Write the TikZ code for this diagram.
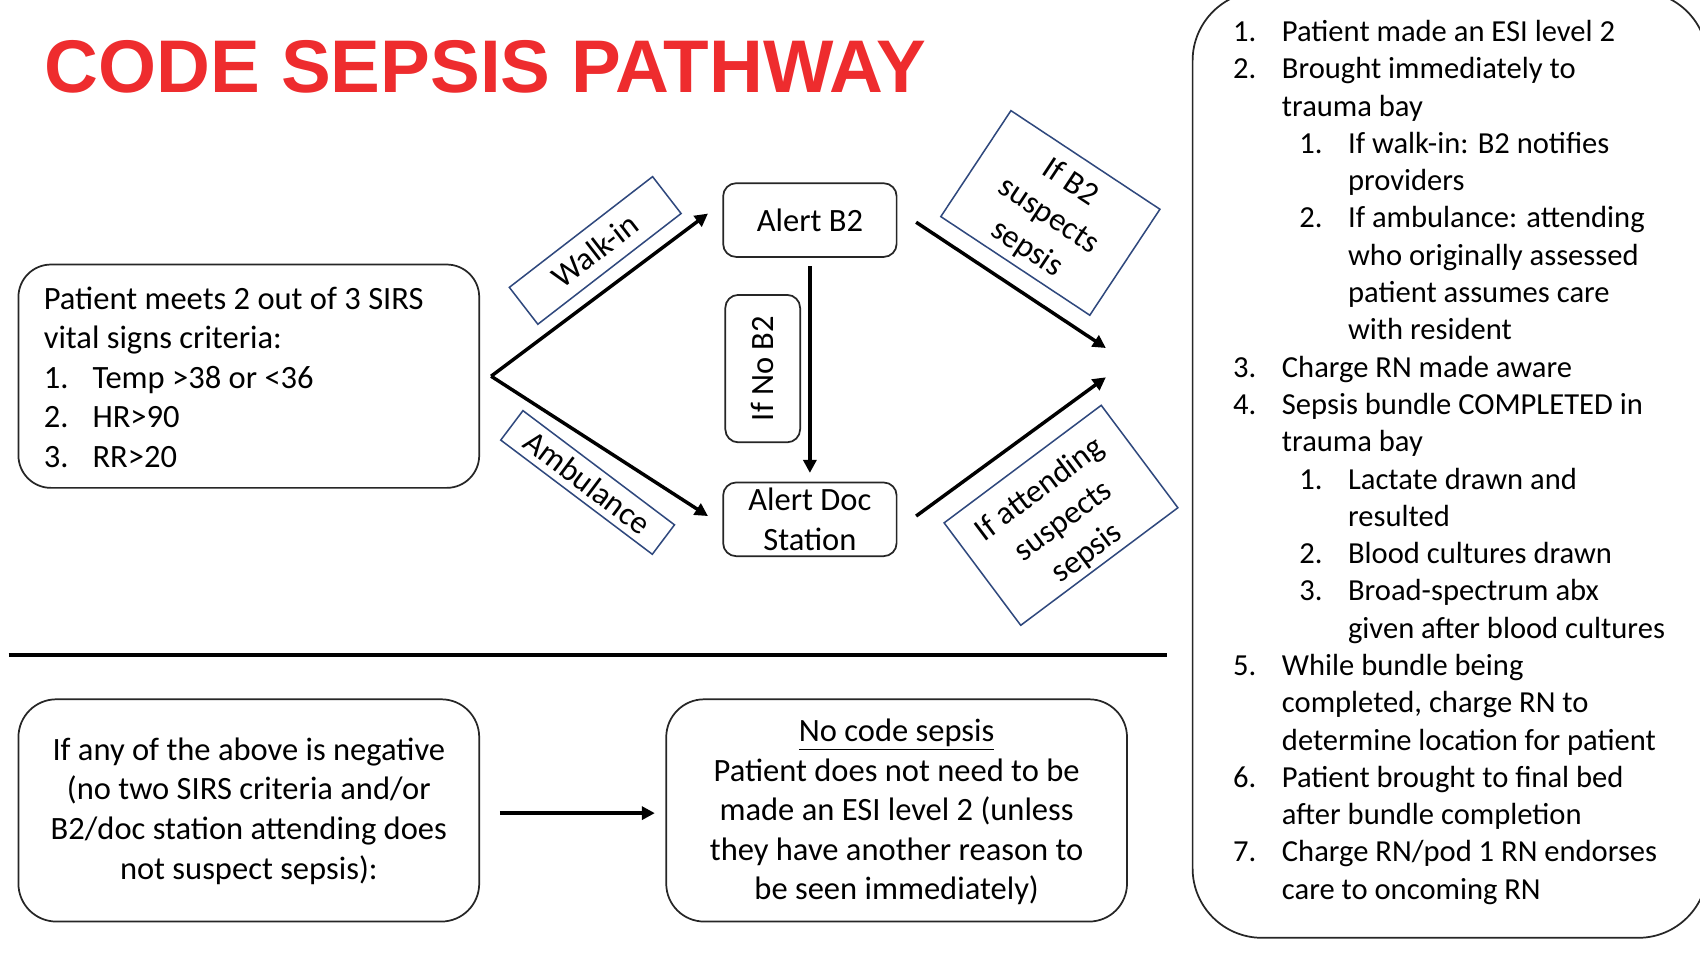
\documentclass[tikz,border=0pt]{standalone}
\usepackage{fontspec}
\usepackage{graphicx}
\setmainfont{Carlito}
\newfontfamily\titlefont{Liberation Sans}
\usetikzlibrary{arrows.meta}
\definecolor{titlered}{RGB}{238,44,46}
\definecolor{labelblue}{RGB}{47,72,125}
\newcommand\ListNum[1]{\makebox[22.5pt][l]{#1}}
\newcommand\SubNum[1]{\hspace*{30.5pt}\makebox[22.5pt][l]{#1}}
\newcommand\ContTop{\hspace*{22.5pt}}
\newcommand\ContSub{\hspace*{53pt}}
\begin{document}
\begin{tikzpicture}[x=0.5pt,y=-0.5pt,
  roundbox/.style={draw=black!85, line width=0.8pt, inner sep=0pt},
  labelbox/.style={draw=labelblue, line width=0.7pt, inner sep=0pt, align=center,
    font=\fontsize{15}{18.25}\selectfont},
  labeltext/.style={inner sep=0pt, align=center, font=\fontsize{15}{18.25}\selectfont},
  plaintext/.style={inner sep=0pt, font=\fontsize{15}{18.25}\selectfont},
  flow/.style={line width=1.6pt, -{Triangle[length=6pt,width=6pt]}}
]
\useasboundingbox[fill=white] (0,0) rectangle (1568,886);

% title
\node[anchor=base west, inner sep=0pt, text=titlered,
  font=\titlefont\bfseries\fontsize{34.4}{40}\selectfont] (title) at (41,85.5)
  {CODE SEPSIS PATHWAY};

% SIRS criteria box
\node[roundbox, rounded corners=15pt, minimum width=212.5pt, minimum height=103pt] (sirs) at (229.5,347) {};
\node[plaintext, align=left, anchor=west] (sirstext) at (40,348)
  {Patient meets 2 out of 3 SIRS\\ vital signs criteria:\\
   \ListNum{1.}Temp >38 or <36\\ \ListNum{2.}HR>90\\ \ListNum{3.}RR>20};

% alert boxes
\node[roundbox, rounded corners=6pt, minimum width=80pt, minimum height=34pt,
  font=\fontsize{15}{18.25}\selectfont] (b2) at (747,203) {Alert B2};
\node[roundbox, rounded corners=6pt, minimum width=80pt, minimum height=34pt, align=center,
  font=\fontsize{15}{18.25}\selectfont] (doc) at (747,479) {Alert Doc\\ Station};
\node[roundbox, rounded corners=6pt, minimum width=68pt, minimum height=34.5pt, rotate=90,
  font=\fontsize{15}{18.25}\selectfont] (nob2) at (703.5,340) {If No B2};

% path labels
\node[labelbox, rotate=37.7, minimum width=83.5pt, minimum height=21.5pt] (walk) at (549,231) {Walk-in};
\node[labelbox, rotate=-37, minimum width=87.5pt, minimum height=17pt] (amb) at (542,445) {Ambulance};
\node[labelbox, rotate=-33.5, minimum width=82.4pt, minimum height=58.6pt] (b2sus) at (968.8,196.4) {};
\node[labeltext, rotate=-33.5] (b2sustext) at (967,199) {If B2\\ suspects\\ sepsis};
\node[labelbox, rotate=36.8, minimum width=90.5pt, minimum height=59pt] (attsus) at (978.6,475.3) {};
\node[labeltext, rotate=36.8] (attsustext) at (981,481) {If attending\\ suspects\\ sepsis};

% connectors
\coordinate (fork) at (453,347);
\coordinate (walkend) at (653,197);
\coordinate (ambend) at (653,476);
\coordinate (b2out) at (845,205);
\coordinate (docout) at (845,476);
\coordinate (mergeA) at (1020,321);
\coordinate (mergeB) at (1020,348);
\draw[flow] (fork) -- (walkend);
\draw[flow] (fork) -- (ambend);
\draw[flow, shorten <=4pt, shorten >=4pt] (b2.south) -- (doc.north);
\draw[flow] (b2out) -- (mergeA);
\draw[flow] (docout) -- (mergeB);

% divider
\coordinate (divL) at (8,604);
\coordinate (divR) at (1076,604);
\draw[line width=1.6pt] (divL) -- (divR);

% negative branch
\node[roundbox, rounded corners=17.5pt, minimum width=212.5pt, minimum height=102.5pt] (neg) at (229.5,747.5) {};
\node[plaintext, align=center] (negtext) at (229.5,748)
  {If any of the above is negative\\ (no two SIRS criteria and/or\\ B2/doc station attending does\\ not suspect sepsis):};
\node[roundbox, rounded corners=17.5pt, minimum width=212.5pt, minimum height=102.5pt] (nocode) at (827,747.5) {};
\node[plaintext, align=center] (nocodetext) at (827,749)
  {\underline{No code sepsis}\\ Patient does not need to be\\ made an ESI level 2 (unless\\ they have another reason to\\ be seen immediately)};
\coordinate (negout) at (461,750);
\coordinate (nocodein) at (604,750);
\draw[flow] (negout) -- (nocodein);

% code sepsis steps
\draw[roundbox, rounded corners=32pt] (1100,-8) rectangle (1575,865);
\node[inner sep=0pt, align=left, anchor=west, font=\fontsize{14.1}{17.2}\selectfont] (steps) at (1137,426.5)
  {\ListNum{1.}Patient made an ESI level 2\\
   \ListNum{2.}Brought immediately to\\
   \ContTop trauma bay\\
   \SubNum{1.}If walk-in: B2 notifies\\
   \ContSub providers\\
   \SubNum{2.}If ambulance: attending\\
   \ContSub who originally assessed\\
   \ContSub patient assumes care\\
   \ContSub with resident\\
   \ListNum{3.}Charge RN made aware\\
   \ListNum{4.}Sepsis bundle COMPLETED in\\
   \ContTop trauma bay\\
   \SubNum{1.}Lactate drawn and\\
   \ContSub resulted\\
   \SubNum{2.}Blood cultures drawn\\
   \SubNum{3.}Broad-spectrum abx\\
   \ContSub given after blood cultures\\
   \ListNum{5.}While bundle being\\
   \ContTop completed, charge RN to\\
   \ContTop determine location for patient\\
   \ListNum{6.}Patient brought to final bed\\
   \ContTop after bundle completion\\
   \ListNum{7.}Charge RN/pod 1 RN endorses\\
   \ContTop care to oncoming RN};
\end{tikzpicture}
\end{document}
